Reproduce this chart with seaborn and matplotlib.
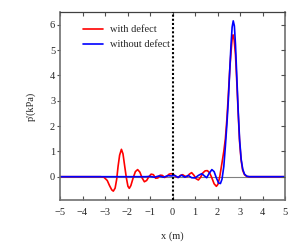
import pandas as pd
import seaborn as sns
import matplotlib.pyplot as plt

# --- data ---
x_defect = [-5.0, -3.2, -3.05, -2.9, -2.8, -2.7, -2.63, -2.55, -2.48, -2.42, -2.35, -2.27,
            -2.2, -2.13, -2.05, -1.98, -1.92, -1.85, -1.75, -1.65, -1.55, -1.45, -1.35,
            -1.25, -1.15, -1.05, -0.95, -0.85, -0.75, -0.65, -0.55, -0.45, -0.35, -0.25,
            -0.15, -0.05, 0.05, 0.15, 0.25, 0.35, 0.45, 0.55, 0.65, 0.75, 0.85, 0.95,
            1.05, 1.15, 1.25, 1.35, 1.45, 1.55, 1.65, 1.75, 1.85, 1.95, 2.02, 2.1, 2.2,
            2.28, 2.35, 2.42, 2.48, 2.55, 2.6, 2.65, 2.69, 2.74, 2.8, 2.86, 2.92, 2.98,
            3.05, 3.12, 3.2, 3.3, 3.4, 5.0]
p_defect = [0.0, 0.0, -0.02, -0.15, -0.35, -0.52, -0.57, -0.45, -0.1, 0.4, 0.85, 1.08,
            0.9, 0.45, -0.05, -0.38, -0.46, -0.35, -0.05, 0.2, 0.28, 0.18, -0.05,
            -0.2, -0.15, 0.0, 0.1, 0.08, -0.06, -0.05, 0.06, 0.05, -0.03, 0.02,
            0.1, 0.12, 0.08, 0.0, -0.03, 0.05, 0.08, 0.02, 0.0, 0.1, 0.16, 0.06,
            -0.08, -0.13, -0.02, 0.15, 0.23, 0.24, 0.15, -0.05, -0.28, -0.38, -0.3, 0.0, 0.55,
            1.0, 1.5, 2.3, 3.2, 4.3, 4.9, 5.45, 5.6, 5.4, 4.8, 3.7, 2.5, 1.4,
            0.65, 0.25, 0.08, 0.01, 0.0, 0.0]

x_clean = [-5.0, -1.2, -1.0, -0.8, -0.6, -0.4, -0.2, -0.05, 0.1, 0.25, 0.4, 0.55, 0.7,
           0.85, 1.0, 1.15, 1.3, 1.42, 1.52, 1.62, 1.75, 1.85, 1.95, 2.05, 2.13, 2.2,
           2.28, 2.35, 2.42, 2.48, 2.55, 2.6, 2.65, 2.7, 2.75, 2.8, 2.86, 2.92, 2.98,
           3.05, 3.12, 3.2, 3.3, 3.4, 5.0]
p_clean = [0.0, 0.0, 0.01, -0.02, 0.03, -0.02, 0.04, 0.03, 0.05, -0.03, 0.06, -0.02, 0.05,
           -0.04, -0.05, 0.05, 0.12, 0.03, -0.04, 0.12, 0.28, 0.2, -0.05, -0.25, -0.27, -0.1,
           0.4, 1.2, 2.1, 3.0, 4.3, 5.2, 5.9, 6.15, 5.95, 5.2, 3.9, 2.6, 1.5,
           0.7, 0.3, 0.1, 0.02, 0.0, 0.0]

labels = ["with defect", "without defect"]
colors = ["#ff0000", "#0000ff"]

df = pd.concat([
    pd.DataFrame({"x": x_defect, "p": p_defect, "case": labels[0]}),
    pd.DataFrame({"x": x_clean, "p": p_clean, "case": labels[1]}),
])

sns.set_style("ticks")
plt.rcParams['font.family'] = ['Liberation Serif', 'DejaVu Serif']
plt.rcParams['font.size'] = 7.5

fig = plt.figure(figsize=(3, 2.5), dpi=100)
ax = fig.add_axes([0.2, 0.2, 0.75, 0.752])

ax.axhline(0, color="#808080", lw=0.8, zorder=1)
ax.axvline(0, color="black", lw=1.5, ls=(0, (1, 1)), zorder=3)

sns.lineplot(data=df, x="x", y="p", hue="case", hue_order=labels,
             palette=colors, lw=1.2, sort=False, ax=ax, zorder=2)

ax.set_xlim(-5, 5)
ax.set_ylim(-0.92, 6.5)
ax.set_xticks(range(-5, 6))
ax.set_yticks(range(0, 7))
ax.set_xlabel("x (m)", labelpad=10)
ax.set_ylabel("p'(kPa)", labelpad=10)

for s in ax.spines.values():
    s.set_color("#707070")
    s.set_linewidth(1.2)
ax.spines["top"].set_color("#404040")
ax.spines["top"].set_linewidth(0.9)

ax.tick_params(axis="x", direction="in", top=True, length=3, width=0.8,
               color="#505050", pad=6)
ax.tick_params(axis="y", direction="out", length=2.5, width=0.8, color="#505050", pad=1)

ax2 = ax.twinx()
ax2.set_ylim(ax.get_ylim())
ax2.set_yticks(range(0, 7))
ax2.tick_params(axis="y", direction="in", length=3, width=0.8, color="#505050",
                labelright=False)
for s in ax2.spines.values():
    s.set_visible(False)

leg = ax.legend(loc="upper left", frameon=False, handlelength=1.9, handletextpad=0.7,
                bbox_to_anchor=(0.06, 0.98), labelspacing=0.55)

fig.savefig("out.png", dpi=100)
